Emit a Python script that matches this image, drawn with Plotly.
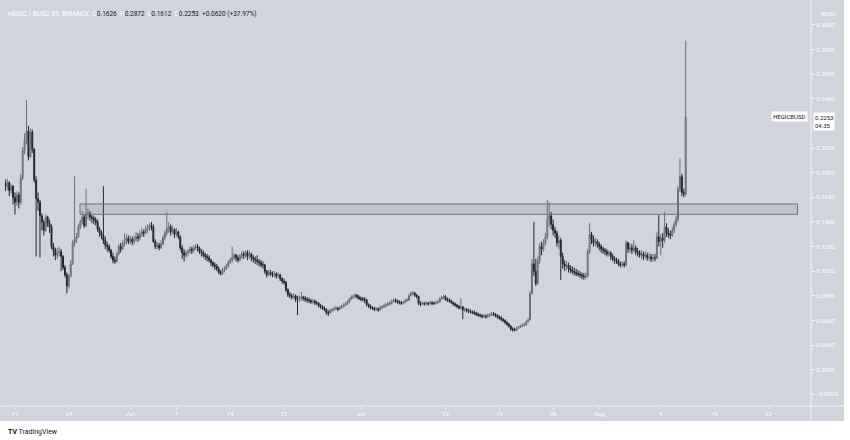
import pandas as pd
import plotly.graph_objects as go

# 6h candles, HEGIC/BUSD (Binance), prices in units of 0.0001 BUSD
first_open = 1720
closes = [
    1690, 1720, 1655,
    1690, 1600, 1560, 1620, 1560, 1760, 1980, 2070, 2140, 1930, 2130, 1990,
    1740, 1590, 1560, 1450, 1400, 1330, 1440, 1390, 1360, 1200, 1170, 1130,
    1150, 1160, 1120, 1030, 970, 880, 960, 1060, 1230, 1260, 1280, 1360,
    1400, 1440, 1370, 1460, 1470, 1440, 1430, 1415, 1400, 1340, 1310, 1290,
    1250, 1210, 1200, 1170, 1120, 1090, 1080, 1140, 1200, 1180, 1220, 1240,
    1270, 1240, 1260, 1240, 1260, 1280, 1270, 1300, 1320, 1310, 1340, 1350,
    1370, 1360, 1240, 1200, 1210, 1190, 1220, 1270, 1310, 1350, 1360, 1320,
    1340, 1300, 1320, 1280, 1190, 1150, 1130, 1150, 1160, 1180, 1170, 1190,
    1200, 1190, 1160, 1150, 1130, 1120, 1110, 1090, 1070, 1050, 1040, 1020,
    990, 980, 1010, 1020, 1040, 1070, 1090, 1110, 1130, 1110, 1090, 1120,
    1140, 1130, 1150, 1120, 1140, 1110, 1100, 1090, 1080, 1070, 1050, 1050,
    1000, 970, 990, 980, 970, 980, 960, 970, 940, 920, 910, 850,
    810, 800, 790, 800, 770, 770, 780, 790, 780, 770, 765, 760,
    750, 755, 740, 740, 720, 710, 700, 690, 665, 660, 680, 685,
    695, 700, 690, 705, 715, 725, 735, 750, 770, 790, 795, 805,
    790, 780, 775, 770, 765, 730, 715, 705, 700, 690, 695, 685,
    705, 710, 720, 725, 735, 740, 755, 765, 760, 750, 745, 740,
    745, 760, 765, 800, 820, 825, 805, 795, 740, 730, 740, 735,
    740, 735, 745, 740, 738, 745, 750, 775, 785, 795, 770, 765,
    760, 745, 735, 725, 715, 700, 710, 685, 690, 680, 675, 670,
    665, 660, 650, 645, 640, 630, 635, 630, 640, 645, 655, 650,
    640, 630, 620, 610, 600, 585, 570, 555, 530, 525, 520, 535,
    545, 555, 560, 565, 590, 605, 820, 1060, 1000, 900, 1080, 1200,
    1180, 1230, 1280, 1420, 1450, 1380, 1330, 1310, 1230, 1250, 1120, 1060,
    1040, 1050, 1020, 1010, 1000, 990, 980, 975, 970, 960, 955, 960,
    1160, 1300, 1260, 1230, 1240, 1220, 1200, 1180, 1170, 1160, 1140, 1150,
    1120, 1100, 1090, 1080, 1060, 1050, 1060, 1050, 1230, 1180, 1190, 1170,
    1190, 1160, 1150, 1130, 1140, 1120, 1130, 1110, 1115, 1100, 1110, 1105,
    1280, 1240, 1270, 1250, 1360, 1310, 1300, 1290, 1330, 1380, 1420, 1670,
    1768, 1640, 1626, 2253,
]
highs = [
    1745, 1750, 1730,
    1710, 1700, 1640, 1650, 1640, 1790, 2010, 2120, 2390, 2180, 2160, 2150,
    2000, 1770, 1640, 1580, 1470, 1420, 1460, 1450, 1420, 1380, 1230, 1190,
    1190, 1200, 1180, 1130, 1050, 990, 980, 1090, 1250, 1770, 1310, 1380,
    1420, 1490, 1460, 1670, 1510, 1490, 1460, 1450, 1440, 1420, 1360, 1330,
    1690, 1280, 1240, 1220, 1180, 1150, 1120, 1160, 1220, 1230, 1250, 1310,
    1300, 1290, 1290, 1280, 1290, 1320, 1310, 1330, 1350, 1340, 1370, 1380,
    1390, 1400, 1380, 1260, 1240, 1230, 1250, 1290, 1330, 1480, 1400, 1380,
    1370, 1350, 1350, 1330, 1290, 1210, 1180, 1170, 1180, 1200, 1200, 1210,
    1220, 1220, 1200, 1180, 1170, 1150, 1140, 1130, 1100, 1080, 1070, 1060,
    1040, 1010, 1030, 1040, 1060, 1090, 1110, 1200, 1150, 1140, 1130, 1140,
    1160, 1160, 1170, 1170, 1165, 1150, 1130, 1120, 1130, 1100, 1090, 1080,
    1060, 1010, 1010, 1010, 1000, 1000, 990, 990, 980, 950, 940, 920,
    860, 830, 820, 820, 810, 800, 800, 833, 800, 800, 790, 785,
    775, 775, 770, 760, 750, 735, 725, 715, 700, 685, 695, 700,
    710, 720, 710, 720, 730, 740, 750, 765, 785, 805, 810, 820,
    815, 805, 795, 790, 790, 775, 740, 730, 715, 710, 710, 705,
    720, 725, 735, 740, 750, 755, 770, 780, 780, 770, 765, 760,
    760, 775, 780, 815, 835, 840, 830, 815, 800, 755, 755, 750,
    755, 750, 760, 755, 755, 760, 765, 790, 800, 810, 805, 785,
    780, 770, 755, 745, 735, 725, 780, 715, 705, 700, 695, 690,
    680, 680, 670, 665, 655, 650, 650, 648, 655, 660, 670, 668,
    660, 650, 642, 635, 620, 610, 595, 580, 560, 545, 540, 550,
    555, 565, 575, 580, 600, 620, 840, 1100, 1400, 1100, 1120, 1230,
    1240, 1260, 1310, 1580, 1560, 1480, 1420, 1360, 1330, 1290, 1270, 1150,
    1090, 1080, 1070, 1050, 1040, 1030, 1020, 1010, 1000, 990, 985, 990,
    1180, 1390, 1320, 1290, 1270, 1260, 1240, 1220, 1200, 1190, 1180, 1170,
    1160, 1140, 1120, 1110, 1100, 1080, 1080, 1080, 1250, 1240, 1230, 1220,
    1253, 1210, 1190, 1170, 1170, 1160, 1160, 1150, 1150, 1140, 1140, 1140,
    1320, 1457, 1300, 1310, 1480, 1390, 1350, 1330, 1360, 1400, 1450, 1690,
    1917, 1790, 1670, 2872,
]
lows = [
    1650, 1660, 1610,
    1630, 1540, 1460, 1530, 1510, 1540, 1740, 1950, 2030, 1900, 1920, 1960,
    1720, 1120, 1490, 1110, 1330, 1290, 1320, 1360, 1310, 1180, 1120, 1090,
    1100, 1120, 1000, 1010, 950, 820, 860, 950, 1050, 1200, 1230, 1270,
    1340, 1380, 1350, 1360, 1420, 1410, 1390, 1380, 1370, 1320, 1280, 1260,
    1220, 1180, 1160, 1150, 1100, 1064, 1060, 1070, 1130, 1150, 1170, 1200,
    1220, 1220, 1220, 1210, 1220, 1240, 1240, 1250, 1280, 1280, 1300, 1310,
    1330, 1330, 1230, 1180, 1180, 1170, 1180, 1210, 1250, 1290, 1310, 1290,
    1300, 1270, 1280, 1260, 1170, 1100, 1080, 1110, 1120, 1140, 1140, 1150,
    1170, 1160, 1140, 1120, 1110, 1090, 1080, 1070, 1040, 1030, 1010, 1000,
    975, 965, 970, 990, 1010, 1030, 1060, 1070, 1090, 1080, 1070, 1080,
    1100, 1100, 1110, 1090, 1100, 1080, 1070, 1060, 1050, 1040, 1030, 1020,
    980, 950, 960, 960, 950, 950, 940, 945, 920, 900, 890, 830,
    790, 780, 770, 775, 750, 644, 750, 760, 760, 750, 745, 740,
    735, 735, 725, 725, 705, 695, 685, 675, 645, 636, 655, 665,
    675, 685, 675, 685, 695, 705, 715, 725, 740, 765, 775, 780,
    775, 765, 755, 755, 740, 715, 700, 690, 685, 675, 680, 670,
    680, 690, 700, 705, 715, 720, 730, 745, 745, 735, 730, 725,
    730, 740, 750, 760, 795, 805, 790, 780, 725, 715, 725, 720,
    725, 720, 730, 725, 725, 730, 735, 745, 765, 775, 760, 750,
    745, 735, 720, 710, 700, 690, 690, 610, 670, 665, 660, 655,
    650, 645, 635, 630, 625, 618, 620, 615, 622, 630, 635, 635,
    625, 615, 605, 595, 585, 570, 555, 540, 515, 509, 512, 515,
    530, 540, 545, 550, 555, 580, 600, 810, 960, 880, 890, 1060,
    1130, 1160, 1210, 1260, 1360, 1340, 1290, 1270, 1200, 1180, 930, 1020,
    1000, 1010, 990, 985, 975, 965, 960, 955, 945, 935, 930, 935,
    950, 1140, 1220, 1200, 1200, 1190, 1170, 1150, 1140, 1130, 1120, 1120,
    1090, 1080, 1060, 1060, 1040, 1030, 1035, 1030, 1040, 1150, 1150, 1140,
    1150, 1130, 1120, 1110, 1100, 1090, 1100, 1085, 1085, 1075, 1080, 1080,
    1100, 1200, 1130, 1190, 1230, 1280, 1270, 1260, 1280, 1310, 1360, 1400,
    1640, 1610, 1600, 1612,
]

# resistance box drawn on the chart
zone_start, zone_end = "2021-05-25 11:00", "2021-08-26 19:00"
zone_low, zone_high = 0.1462, 0.1546

x_tick_dates = ["2021-05-17", "2021-05-24", "2021-06-01", "2021-06-07", "2021-06-14",
                "2021-06-21", "2021-07-01", "2021-07-12", "2021-07-19", "2021-07-26",
                "2021-08-01", "2021-08-09", "2021-08-16", "2021-08-23"]
x_tick_labels = ["17", "24", "Jun", "7", "14", "21", "Jul", "12", "19", "26",
                 "Aug", "9", "16", "23"]
y_tick_vals = [0.30, 0.28, 0.26, 0.24, 0.20, 0.18, 0.16, 0.14, 0.12, 0.10,
               0.08, 0.06, 0.04, 0.02, 0.0]
y_tick_labels = ["0.3000", "0.2800", "0.2600", "0.2400", "0.2000", "0.1800", "0.1600",
                 "0.1400", "0.1200", "0.1000", "0.0800", "0.0600", "0.0400", "0.0200",
                 "\u22120.0000"]

last_price = 0.2253

scale = 10000.0
c = [v / scale for v in closes]
h = [v / scale for v in highs]
l = [v / scale for v in lows]
o = [first_open / scale] + c[:-1]   # candles are contiguous: open = previous close
times = pd.date_range("2021-05-15 18:00", periods=len(c), freq="6h")

BG = "#d1d4dc"
TXT = "#ffffff"
DARK = "#131722"

fig = go.Figure(go.Candlestick(
    x=times, open=o, high=h, low=l, close=c,
    increasing=dict(line=dict(color="#6c6f7a", width=1), fillcolor="#989ba4"),
    decreasing=dict(line=dict(color="#22252e", width=1), fillcolor="#22252e"),
    whiskerwidth=0, hoverinfo="skip",
))

# plot area: x 5..811 px, y 0..406 px
W, H = 806.0, 406.0
def px(xp):
    return (xp - 5) / W
def py(yp):
    return (H - yp) / H

shapes = [
    dict(type="rect", xref="x", yref="y", x0=zone_start, x1=zone_end,
         y0=zone_low, y1=zone_high, layer="above",
         fillcolor="rgba(120,123,134,0.18)", line=dict(color="#6f727c", width=1)),
    dict(type="line", xref="paper", yref="paper", x0=1, x1=1, y0=py(421), y1=1,
         line=dict(color="#f3f4f7", width=1)),
    dict(type="line", xref="paper", yref="paper", x0=px(0), x1=px(844), y0=0, y1=0,
         line=dict(color="#f3f4f7", width=1)),
    dict(type="rect", xref="paper", yref="paper", x0=-0.1, x1=1.2, y0=py(421), y1=-0.3,
         fillcolor="white", line=dict(width=0), layer="above"),
    dict(type="rect", xref="paper", yref="paper", x0=px(844), x1=1.2, y0=-0.3, y1=1.2,
         fillcolor="white", line=dict(width=0), layer="above"),
]

header = (
    "<span style='color:#ffffff'>HEGIC / BUSD, 6h, BINANCE  O</span>"
    "<span style='color:#131722'>0.1626</span>"
    "<span style='color:#ffffff'>  H</span><span style='color:#131722'>0.2872</span>"
    "<span style='color:#ffffff'>  L</span><span style='color:#131722'>0.1612</span>"
    "<span style='color:#ffffff'>  C</span><span style='color:#131722'>0.2253</span>"
    "<span style='color:#131722'>  +0.0620 (+37.97%)</span>"
)

annotations = [
    dict(xref="paper", yref="paper", x=px(6), y=py(14), text=header, showarrow=False,
         xanchor="left", yanchor="middle", font=dict(size=6.5)),
    dict(xref="paper", yref="paper", x=px(828), y=py(13), text="BUSD", showarrow=False,
         xanchor="center", yanchor="middle", font=dict(size=6, color=TXT)),
    dict(xref="paper", yref="y", x=px(808), y=last_price, text="HEGICBUSD", showarrow=False,
         xanchor="right", yanchor="middle", bgcolor="white", borderpad=1,
         font=dict(size=6, color=DARK)),
    dict(xref="paper", yref="y", x=px(812.5), y=last_price, yshift=5,
         text="%.4f<br>04:35" % last_price, showarrow=False, align="left",
         xanchor="left", yanchor="top", bgcolor="white", borderpad=1,
         font=dict(size=6, color=DARK)),
    dict(xref="paper", yref="paper", x=px(6), y=py(432),
         text="<b>TV</b> TradingView", showarrow=False, xanchor="left", yanchor="middle",
         font=dict(size=7, color=DARK)),
]

fig.update_layout(
    width=850, height=440,
    margin=dict(l=5, r=39, t=0, b=34),
    paper_bgcolor=BG, plot_bgcolor=BG,
    showlegend=False,
    font=dict(family="Roboto", size=6, color=TXT),
    shapes=shapes, annotations=annotations,
    xaxis=dict(
        range=["2021-05-15 16:48", "2021-08-28 13:12"],
        rangeslider=dict(visible=False),
        showgrid=False, zeroline=False, showline=False,
        tickvals=x_tick_dates, ticktext=x_tick_labels,
        ticks="outside", ticklen=2, tickcolor="#f3f4f7",
        tickfont=dict(size=6, color=TXT),
    ),
    yaxis=dict(
        side="right", range=[-0.0095, 0.3203],
        showgrid=False, zeroline=False, showline=False,
        tickvals=y_tick_vals, ticktext=y_tick_labels,
        ticks="outside", ticklen=3, tickcolor="#f3f4f7",
        tickfont=dict(size=6, color=TXT),
    ),
)

# the page's default body margin would push the 850x440 figure off the window
fig.write_html("out.html", config={"displayModeBar": False},
               post_script="document.body.style.margin='0';")
